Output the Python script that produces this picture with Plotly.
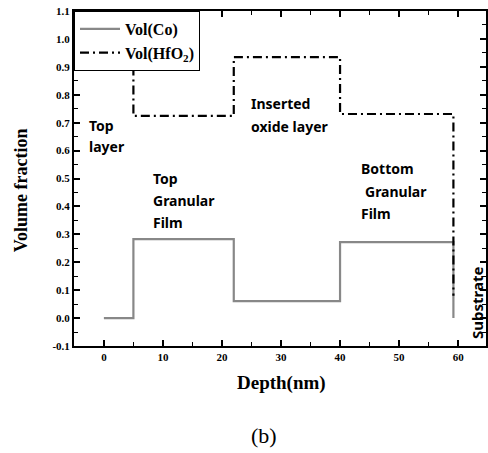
import plotly.graph_objects as go

# Data
co_depth = [0, 5, 22, 40, 59.2]
co_vol = [0.0, 0.283, 0.061, 0.272, 0.0]
hf_depth = [0, 5, 22, 40, 59.2]
hf_vol = [1.0, 0.724, 0.935, 0.731, 0.08]

W, H = 488, 453
L, R, T, B = 74, 0, 11, 107
X0, X1 = -5.06, 64.72
Y0, Y1 = -0.1, 1.1

serif = "Liberation Serif"
sans = "Noto Sans"

fig = go.Figure()
fig.add_trace(go.Scatter(x=co_depth, y=co_vol, mode="lines", line_shape="hv",
                         name="Vol(Co)", line=dict(color="#888888", width=2.2)))
fig.add_trace(go.Scatter(x=hf_depth, y=hf_vol, mode="lines", line_shape="hv",
                         name="Vol(HfO<sub>2</sub>)",
                         line=dict(color="black", width=2.2, dash="9px,4px,2px,4px")))

axis_common = dict(showline=True, linecolor="black", linewidth=2, mirror="ticks",
                   ticks="inside", ticklen=6, tickwidth=1.5, tickcolor="black",
                   showgrid=False, zeroline=False,
                   tickfont=dict(family=serif, size=11, color="black", weight="bold"))

fig.update_xaxes(range=[X0, X1], tickvals=[0, 10, 20, 30, 40, 50, 60],
                 minor=dict(ticks="inside", ticklen=4, tickwidth=1.2,
                            tickvals=[5, 15, 25, 35, 45, 55], tickcolor="black"),
                 **axis_common)
fig.update_yaxes(range=[Y0, Y1], tickvals=[i / 10 for i in range(-1, 12)],
                 ticktext=[f"{i/10:.1f}" for i in range(-1, 12)],
                 minor=dict(ticks="inside", ticklen=4, tickwidth=1.2,
                            tickvals=[i / 100 for i in range(-5, 110, 10)], tickcolor="black"),
                 **axis_common)

def px2x(px):
    return X0 + (px - L) / (W - L - R) * (X1 - X0)

def py2y(py):
    return Y1 - (py - T) / (H - T - B) * (Y1 - Y0)

labels = [
    ("Top", 87, 125), ("layer", 87, 146),
    ("Inserted", 250, 103), ("oxide layer", 250, 126),
    ("Top", 151, 178), ("Granular", 151, 200), ("Film", 151, 222),
    ("Bottom", 360, 168), ("Granular", 364, 191), ("Film", 360, 213),
]
anns = []
for txt, px, py in labels:
    anns.append(dict(x=px2x(px), y=py2y(py), xref="x", yref="y", text=txt,
                     showarrow=False, xanchor="left", yanchor="middle",
                     font=dict(family=sans, size=14, color="black", weight="bold")))
anns.append(dict(x=px2x(479), y=py2y(303), xref="x", yref="y", text="Substrate",
                 showarrow=False, textangle=-90, xanchor="center", yanchor="middle",
                 font=dict(family=sans, size=15, color="black", weight="bold")))
anns.append(dict(x=21 / W, y=1 - 190 / H, xref="paper", yref="paper", text="Volume fraction",
                 showarrow=False, textangle=-90, xanchor="center", yanchor="middle",
                 font=dict(family=serif, size=18, color="black", weight="bold")))
anns.append(dict(x=283 / W, y=1 - 383 / H, xref="paper", yref="paper", text="Depth(nm)",
                 showarrow=False, xanchor="center", yanchor="middle",
                 font=dict(family=serif, size=19, color="black", weight="bold")))
anns.append(dict(x=265 / W, y=1 - 435 / H, xref="paper", yref="paper", text="(b)",
                 showarrow=False, xanchor="center", yanchor="middle",
                 font=dict(family=serif, size=22, color="black")))

# convert paper refs to plot-area-relative positions
for a in anns:
    if a["xref"] == "paper":
        fx = a["x"] * W
        fy = (1 - a["y"]) * H
        a["x"] = (fx - L) / (W - L - R)
        a["y"] = 1 - (fy - T) / (H - T - B)

fig.update_layout(
    width=W, height=H,
    margin=dict(l=L, r=R, t=T, b=B),
    plot_bgcolor="white", paper_bgcolor="white",
    annotations=anns,
    legend=dict(x=0, y=1, xanchor="left", yanchor="top", bgcolor="white",
                bordercolor="black", borderwidth=1,
                font=dict(family=serif, size=16, color="black", weight="bold"),
                tracegroupgap=0, itemwidth=40),
)

fig.write_html("out.html")
